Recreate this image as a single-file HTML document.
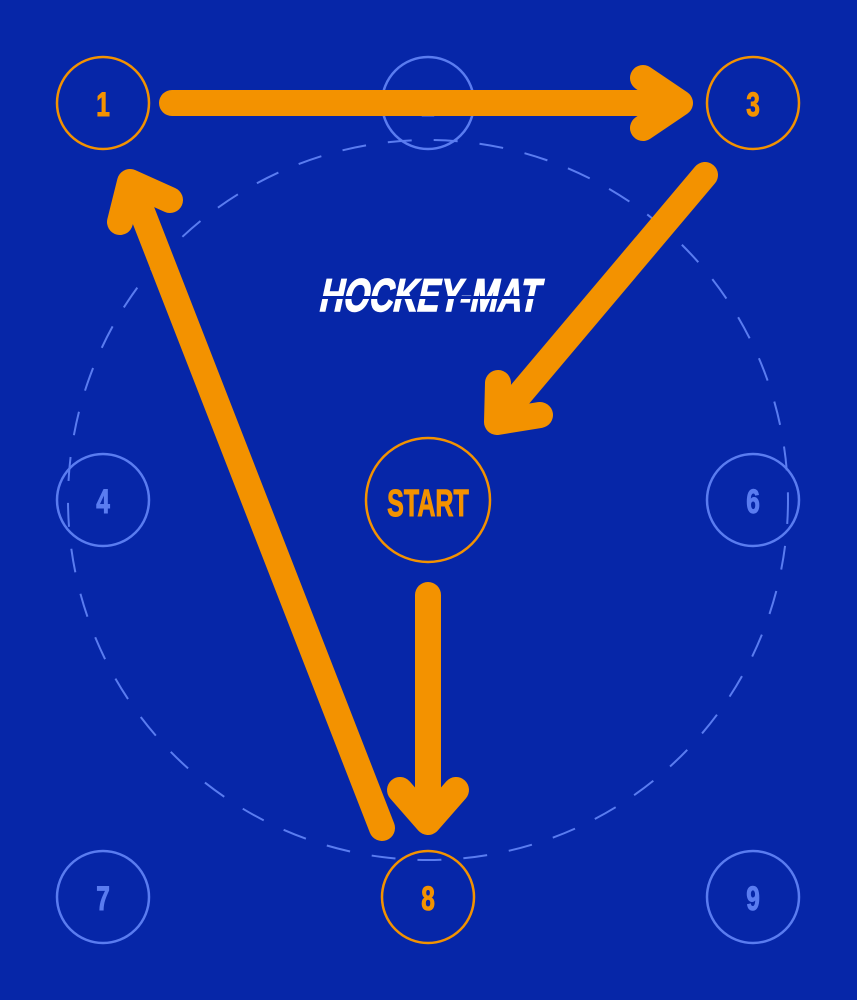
<!DOCTYPE html>
<html><head><meta charset="utf-8"><style>
html,body{margin:0;padding:0;background:#0626a8;}
svg{display:block}
</style></head><body>
<svg width="857" height="1000" viewBox="0 0 857 1000" xmlns="http://www.w3.org/2000/svg">
<rect width="857" height="1000" fill="#0626a8"/>
<circle cx="428" cy="500" r="360" fill="none" stroke="#5a7cf0" stroke-width="2" stroke-dasharray="24 22"/>
<g fill="none" stroke-width="2.5">
<circle cx="428" cy="103" r="46" stroke="#5a7cf0"/>
<circle cx="103" cy="500" r="46" stroke="#5a7cf0"/>
<circle cx="753" cy="500" r="46" stroke="#5a7cf0"/>
<circle cx="103" cy="897" r="46" stroke="#5a7cf0"/>
<circle cx="753" cy="897" r="46" stroke="#5a7cf0"/>
<circle cx="103" cy="103" r="46" stroke="#f39200"/>
<circle cx="753" cy="103" r="46" stroke="#f39200"/>
<circle cx="428" cy="897" r="46" stroke="#f39200"/>
<circle cx="428" cy="500" r="62" stroke="#f39200"/>
</g>
<g font-family="Liberation Sans, sans-serif" font-weight="bold" font-size="34" text-anchor="middle" stroke-width="1">
<g fill="#5a7cf0" stroke="#5a7cf0">
<text transform="translate(428,116) scale(0.72,1)">2</text>
<text transform="translate(103,513) scale(0.72,1)">4</text>
<text transform="translate(753,513) scale(0.72,1)">6</text>
<text transform="translate(103,910) scale(0.72,1)">7</text>
<text transform="translate(753,910) scale(0.72,1)">9</text>
</g>
<g fill="#f39200" stroke="#f39200">
<text transform="translate(103,116) scale(0.72,1)">1</text>
<text transform="translate(753,116) scale(0.72,1)">3</text>
<text transform="translate(428,910) scale(0.72,1)">8</text>
<text transform="translate(428,516) scale(0.66,1)" font-size="38">START</text>
</g>
</g>
<g fill="none" stroke="#f39200" stroke-width="26" stroke-linecap="round" stroke-linejoin="round">
<line x1="172" y1="103" x2="676" y2="103"/>
<polyline points="643,78 680,103 643,128"/>
<line x1="705" y1="175" x2="500" y2="418"/>
<polyline points="498,383 497,422 540,415"/>
<line x1="428" y1="595" x2="428" y2="820"/>
<polyline points="400,790 428,822 456,790"/>
<line x1="382" y1="828" x2="132" y2="186"/>
<polyline points="120,222 130,182 170,200"/>
</g>
<g>
<text transform="translate(428,311) skewX(-12) scale(0.72,1)" text-anchor="middle" font-family="Liberation Sans, sans-serif" font-weight="bold" font-size="46" fill="#fff" stroke="#fff" stroke-width="1.5">HOCKEY-MAT</text>
<rect x="315" y="296" width="225" height="3" fill="#0626a8"/>
</g>
</svg>
</body></html>
